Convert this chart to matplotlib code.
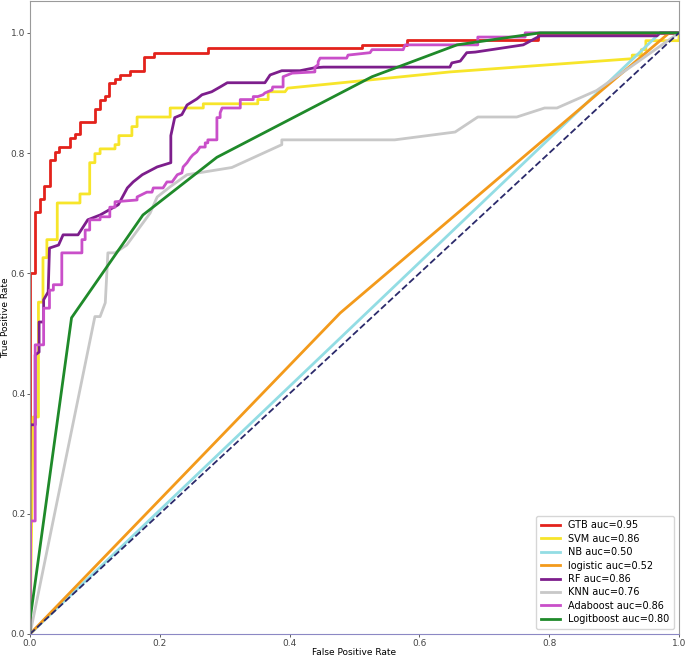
import matplotlib
matplotlib.use("Agg")
import matplotlib.pyplot as plt

# ROC curves (fpr, tpr corner points)
gtb_fpr = [0, 0, 0.007, 0.007, 0.015, 0.015, 0.022, 0.022, 0.031, 0.031, 0.039, 0.039,
           0.045, 0.045, 0.062, 0.062, 0.069, 0.069, 0.077, 0.077, 0.100, 0.100, 0.108,
           0.108, 0.116, 0.116, 0.122, 0.122, 0.131, 0.131, 0.139, 0.139, 0.154, 0.154,
           0.176, 0.176, 0.191, 0.191, 0.274, 0.274, 0.512, 0.512, 0.581, 0.581, 0.783,
           0.783, 1.0]
gtb_tpr = [0, 0.600, 0.600, 0.702, 0.702, 0.724, 0.724, 0.745, 0.745, 0.789, 0.789, 0.802,
           0.802, 0.810, 0.810, 0.825, 0.825, 0.832, 0.832, 0.852, 0.852, 0.874, 0.874,
           0.889, 0.889, 0.895, 0.895, 0.917, 0.917, 0.923, 0.923, 0.930, 0.930, 0.937,
           0.937, 0.960, 0.960, 0.967, 0.967, 0.974, 0.974, 0.980, 0.980, 0.988, 0.988,
           1.0, 1.0]

svm_fpr = [0, 0.005, 0.013, 0.013, 0.020, 0.020, 0.026, 0.026, 0.042, 0.042, 0.077, 0.077,
           0.092, 0.092, 0.100, 0.100, 0.108, 0.108, 0.131, 0.131, 0.137, 0.137, 0.157,
           0.157, 0.165, 0.165, 0.216, 0.216, 0.267, 0.267, 0.351, 0.351, 0.367, 0.367,
           0.393, 0.397, 0.647, 0.928, 0.928, 0.942, 0.942, 0.949, 0.949, 1.0, 1.0]
svm_tpr = [0, 0.361, 0.361, 0.552, 0.552, 0.626, 0.626, 0.656, 0.656, 0.717, 0.717, 0.732,
           0.732, 0.784, 0.784, 0.799, 0.799, 0.807, 0.807, 0.814, 0.814, 0.829, 0.829,
           0.844, 0.844, 0.860, 0.860, 0.875, 0.875, 0.882, 0.882, 0.889, 0.889, 0.902,
           0.902, 0.908, 0.935, 0.957, 0.963, 0.963, 0.972, 0.972, 0.987, 0.987, 1.0]

nb_fpr = [0, 0.971, 1.0]
nb_tpr = [0, 1.0, 1.0]

log_fpr = [0, 0.478, 0.985, 1.0]
log_tpr = [0, 0.534, 1.0, 1.0]

rf_fpr = [0, 0, 0.008, 0.008, 0.014, 0.014, 0.021, 0.021, 0.028, 0.030, 0.044, 0.051,
          0.074, 0.089, 0.108, 0.136, 0.150, 0.159, 0.173, 0.196, 0.217, 0.217, 0.223,
          0.234, 0.242, 0.257, 0.265, 0.280, 0.293, 0.304, 0.362, 0.370, 0.388, 0.416,
          0.439, 0.452, 0.647, 0.650, 0.663, 0.673, 0.686, 0.717, 0.760, 0.786, 0.966,
          0.971, 1.0]
rf_tpr = [0, 0.348, 0.348, 0.464, 0.469, 0.519, 0.519, 0.556, 0.569, 0.642, 0.647, 0.664,
          0.664, 0.689, 0.697, 0.714, 0.742, 0.752, 0.764, 0.777, 0.784, 0.829, 0.859,
          0.864, 0.880, 0.890, 0.897, 0.902, 0.910, 0.917, 0.917, 0.930, 0.937, 0.937,
          0.942, 0.943, 0.943, 0.950, 0.953, 0.967, 0.968, 0.973, 0.980, 0.995, 0.995,
          1.0, 1.0]

knn_fpr = [0, 0.100, 0.108, 0.116, 0.120, 0.131, 0.149, 0.185, 0.196, 0.216, 0.242, 0.311,
           0.388, 0.388, 0.562, 0.655, 0.690, 0.750, 0.793, 0.812, 0.873, 0.925, 1.0]
knn_tpr = [0, 0.528, 0.528, 0.551, 0.634, 0.634, 0.647, 0.700, 0.727, 0.744, 0.764, 0.776,
           0.814, 0.822, 0.822, 0.835, 0.860, 0.860, 0.875, 0.875, 0.904, 0.943, 1.0]

ada_fpr = [0, 0.001, 0.008, 0.008, 0.021, 0.021, 0.030, 0.030, 0.036, 0.036, 0.049, 0.049,
           0.080, 0.080, 0.085, 0.085, 0.092, 0.092, 0.108, 0.108, 0.123, 0.123, 0.131,
           0.131, 0.165, 0.165, 0.180, 0.188, 0.190, 0.205, 0.211, 0.219, 0.227, 0.234,
           0.236, 0.242, 0.247, 0.251, 0.257, 0.262, 0.270, 0.270, 0.274, 0.274, 0.288,
           0.288, 0.293, 0.293, 0.296, 0.324, 0.324, 0.344, 0.344, 0.351, 0.359, 0.362,
           0.373, 0.374, 0.390, 0.390, 0.404, 0.439, 0.439, 0.444, 0.444, 0.447, 0.488,
           0.490, 0.524, 0.527, 0.575, 0.578, 0.690, 0.690, 0.763, 0.763, 1.0]
ada_tpr = [0, 0.188, 0.188, 0.481, 0.481, 0.542, 0.542, 0.572, 0.572, 0.581, 0.581, 0.634,
           0.634, 0.656, 0.656, 0.672, 0.672, 0.689, 0.689, 0.694, 0.694, 0.710, 0.710,
           0.719, 0.722, 0.727, 0.735, 0.735, 0.742, 0.742, 0.752, 0.752, 0.764, 0.767,
           0.777, 0.784, 0.792, 0.797, 0.802, 0.810, 0.810, 0.817, 0.817, 0.822, 0.822,
           0.859, 0.859, 0.867, 0.875, 0.875, 0.889, 0.889, 0.894, 0.894, 0.897, 0.900,
           0.905, 0.910, 0.910, 0.927, 0.933, 0.935, 0.943, 0.947, 0.952, 0.958, 0.958,
           0.963, 0.967, 0.972, 0.972, 0.980, 0.980, 0.993, 0.993, 1.0, 1.0]

lgb_fpr = [0, 0, 0.064, 0.174, 0.288, 0.527, 0.658, 0.786, 1.0]
lgb_tpr = [0, 0.023, 0.526, 0.697, 0.793, 0.927, 0.980, 1.0, 1.0]

names = ["GTB", "SVM", "NB", "logistic", "RF", "KNN", "Adaboost", "Logitboost"]
aucs = [0.95, 0.86, 0.50, 0.52, 0.86, 0.76, 0.86, 0.80]
curves = [(gtb_fpr, gtb_tpr), (svm_fpr, svm_tpr), (nb_fpr, nb_tpr), (log_fpr, log_tpr),
          (rf_fpr, rf_tpr), (knn_fpr, knn_tpr), (ada_fpr, ada_tpr), (lgb_fpr, lgb_tpr)]
colors = ["#e3221c", "#f7e52a", "#93dde4", "#f39a1b", "#7d1e8c", "#c8c8c8", "#c94fc9", "#1f8a2a"]


def main():
    fig = plt.figure(figsize=(6.85, 6.58), dpi=100)
    ax = fig.add_axes([0.0438, 0.0365, 0.9474, 0.962])

    for (fpr, tpr), name, auc, color in zip(curves, names, aucs, colors):
        ax.plot(fpr, tpr, color=color, linewidth=2, label=f"{name} auc={auc:.2f}")

    # chance line
    ax.plot([0, 1], [0, 1], color="#2b2a6b", linestyle="--", linewidth=1.3)

    ax.set_xlim(0, 1)
    ax.set_ylim(0, 1.053)
    ax.set_xticks([0, 0.2, 0.4, 0.6, 0.8, 1.0])
    ax.set_yticks([0, 0.2, 0.4, 0.6, 0.8, 1.0])
    ax.tick_params(labelsize=6.5, length=2, width=0.6, colors="#444444", pad=1.5)
    for side in ["top", "left", "right"]:
        ax.spines[side].set_color("#9a9a9a")
    ax.spines["bottom"].set_color("#8c88c4")

    ax.set_xlabel("False Positive Rate", fontsize=6.5, va="center")
    ax.set_ylabel("True Positive Rate", fontsize=6.5, va="center")
    ax.xaxis.set_label_coords(0.5, -0.030)
    ax.yaxis.set_label_coords(-0.038, 0.5)

    ax.legend(loc="lower right", fontsize=7, handlelength=2.0, labelspacing=0.35,
              borderpad=0.5, handletextpad=0.8)

    fig.savefig("out.png", dpi=100)


if __name__ == "__main__":
    main()
